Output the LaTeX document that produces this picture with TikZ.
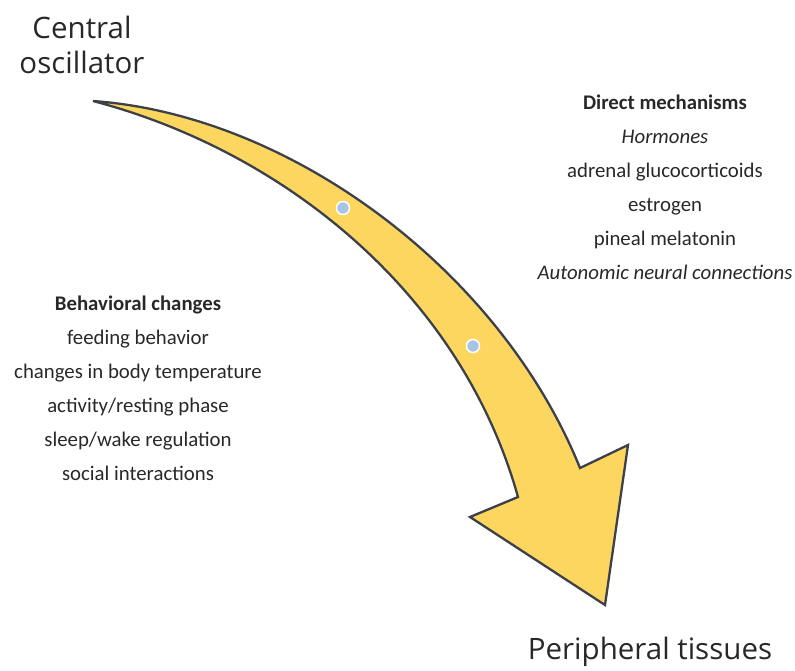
\documentclass[tikz,border=0pt]{standalone}
\usepackage{fontspec}
\setmainfont{Carlito}
\newfontfamily\titlefont{Open Sans}
\usepackage{tikz}
\usetikzlibrary{arrows.meta}

\definecolor{arrowfill}{RGB}{253,214,95}
\definecolor{arrowline}{RGB}{60,64,73}
\definecolor{dotblue}{RGB}{168,196,228}
\definecolor{txt}{RGB}{40,40,40}

\begin{document}
\begin{tikzpicture}[x=1pt,y=-1pt,
        title/.style={align=center,text=txt,font=\titlefont\fontsize{29.5}{35}\selectfont},
        list/.style={align=center,text=txt,font=\fontsize{20.8}{34}\selectfont},
        dot/.style={circle,fill=dotblue,draw=white,line width=1.5pt,minimum size=13pt,inner sep=0pt}]
                \useasboundingbox (0,0) rectangle (795,670);

                \coordinate (tail) at (93,101);
                \coordinate (outer) at (580,468);
                \coordinate (inner) at (518,497);
                \draw[fill=arrowfill,draw=arrowline,line width=2.3pt,line join=miter]
                    (tail) .. controls (290,115) and (500,270) .. (outer)
                    -- (628,445) -- (605,605) -- (470,517) -- (inner)
                    .. controls (460,290) and (280,150) .. (tail) -- cycle;

                \node[dot] (D1) at (343,208) {};
                \node[dot] (D2) at (473,346) {};

                \node[title] (C) at (82,45) {Central\\oscillator};
                \node[title] (P) at (650,652) {Peripheral tissues};

                \node[list] (B) at (138,388) {\textbf{Behavioral changes}\\feeding behavior\\changes in body temperature\\activity/resting phase\\sleep/wake regulation\\social interactions};
                \node[list] (M) at (665,187) {\textbf{Direct mechanisms}\\\textit{Hormones}\\adrenal glucocorticoids\\estrogen\\pineal melatonin\\\textit{Autonomic neural connections}};
            \end{tikzpicture}
\end{document}
